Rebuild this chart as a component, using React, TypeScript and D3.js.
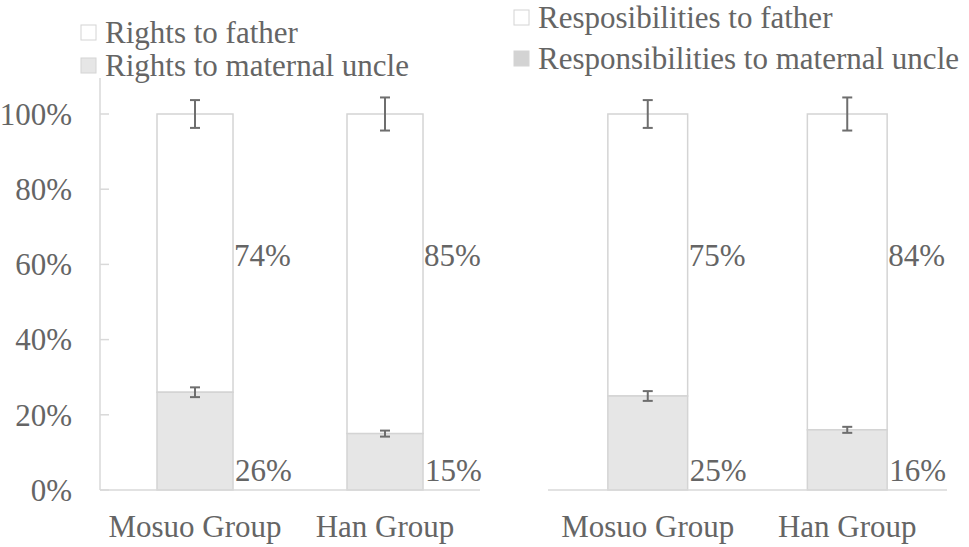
import React from "react";
import * as d3 from "d3";

// data
const groups = ["Mosuo Group", "Han Group"];
const rightsFather = [74, 85];
const rightsUncle = [26, 15];
const rightsFatherErr = [3.7, 4.4];
const rightsUncleErr = [1.3, 0.8];
const respFather = [75, 84];
const respUncle = [25, 16];
const respFatherErr = [3.7, 4.4];
const respUncleErr = [1.3, 0.8];
const yTicks = [0, 20, 40, 60, 80, 100];
const rightsLegend = ["Rights to father", "Rights to maternal uncle"];
const respLegend = ["Resposibilities to father", "Responsibilities to maternal uncle"];
// value positions (in %) where the data labels sit
const upperLabelAt = 62.5;
const lowerLabelAt = 5.2;

const W = 969;
const H = 547;
const FONT = "'Liberation Serif', 'Times New Roman', serif";
const TEXT = "#656565";
const EDGE = "#d4d4d4";
const FILL = "#e6e6e6";
const ERR = "#6e6e6e";

const y = d3.scaleLinear().domain([0, 100]).range([490, 114]);

type PanelProps = {
  x0: number;
  x1: number;
  lower: number[];
  upper: number[];
  lowerErr: number[];
  upperErr: number[];
  showAxis: boolean;
};

const Panel: React.FC<PanelProps> = ({ x0, x1, lower, upper, lowerErr, upperErr, showAxis }) => {
  const x = d3.scaleBand<string>().domain(groups).range([x0, x1]).paddingInner(0.6).paddingOuter(0.3);
  const bw = x.bandwidth();
  return (
    <g>
      {showAxis && (
        <g>
          <line x1={x0} x2={x0} y1={78} y2={y(0)} stroke="#d9d9d9" strokeWidth={1.5} />
          {yTicks.map(t => (
            <g key={t}>
              <line x1={x0} x2={x0 + 9} y1={y(t)} y2={y(t)} stroke="#d9d9d9" strokeWidth={1.5} />
              <text x={72} y={y(t)} dy="0.35em" textAnchor="end" fontSize={31} fill={TEXT} fontFamily={FONT}>
                {t}%
              </text>
            </g>
          ))}
        </g>
      )}
      {groups.map((g, i) => {
        const bx = x(g) as number;
        const cx = bx + bw / 2;
        const top = lower[i] + upper[i];
        return (
          <g key={g}>
            <rect x={bx} y={y(top)} width={bw} height={y(lower[i]) - y(top)} fill="#fff" stroke={EDGE} strokeWidth={1.5} />
            <rect x={bx} y={y(lower[i])} width={bw} height={y(0) - y(lower[i])} fill={FILL} stroke={EDGE} strokeWidth={1.5} />
            {[
              [top, upperErr[i]],
              [lower[i], lowerErr[i]],
            ].map(([v, e], k) => (
              <g key={k} stroke={ERR} strokeWidth={2}>
                <line x1={cx} x2={cx} y1={y(v + e)} y2={y(v - e)} />
                <line x1={cx - 5} x2={cx + 5} y1={y(v + e)} y2={y(v + e)} />
                <line x1={cx - 5} x2={cx + 5} y1={y(v - e)} y2={y(v - e)} />
              </g>
            ))}
            <text x={bx + bw + 1} y={y(upperLabelAt)} dy="0.35em" fontSize={31} fill={TEXT} fontFamily={FONT}>
              {upper[i]}%
            </text>
            <text x={bx + bw + 2} y={y(lowerLabelAt)} dy="0.35em" fontSize={31} fill={TEXT} fontFamily={FONT}>
              {lower[i]}%
            </text>
            <text x={cx} y={537} textAnchor="middle" fontSize={31} fill={TEXT} fontFamily={FONT}>
              {g}
            </text>
          </g>
        );
      })}
      <line x1={x0} x2={x1} y1={y(0)} y2={y(0)} stroke="#d9d9d9" strokeWidth={1.5} />
    </g>
  );
};

const Legend: React.FC<{ x: number; y0: number; gap: number; labels: string[]; fills: string[] }> = ({
  x,
  y0,
  gap,
  labels,
  fills,
}) => (
  <g>
    {labels.map((l, i) => (
      <g key={l}>
        <rect x={x} y={y0 + i * gap - 7} width={15} height={15} fill={fills[i]} stroke={EDGE} strokeWidth={1} />
        <text x={x + 24} y={y0 + i * gap} dy="0.35em" fontSize={31} fill={TEXT} fontFamily={FONT}>
          {l}
        </text>
      </g>
    ))}
  </g>
);

const App: React.FC = () => {
  return (
    <div style={{ position: "absolute", left: 0, top: 0 }}>
      <svg width={W} height={H} style={{ display: "block", background: "#fff" }}>
        <Legend x={81} y0={32} gap={33} labels={rightsLegend} fills={["#fff", FILL]} />
        <Legend x={514} y0={17} gap={41} labels={respLegend} fills={["#fff", "#d3d3d3"]} />
        <Panel
          x0={100}
          x1={480}
          lower={rightsUncle}
          upper={rightsFather}
          lowerErr={rightsUncleErr}
          upperErr={rightsFatherErr}
          showAxis={true}
        />
        <Panel
          x0={548}
          x1={947}
          lower={respUncle}
          upper={respFather}
          lowerErr={respUncleErr}
          upperErr={respFatherErr}
          showAxis={false}
        />
      </svg>
    </div>
  );
};

export default App;
